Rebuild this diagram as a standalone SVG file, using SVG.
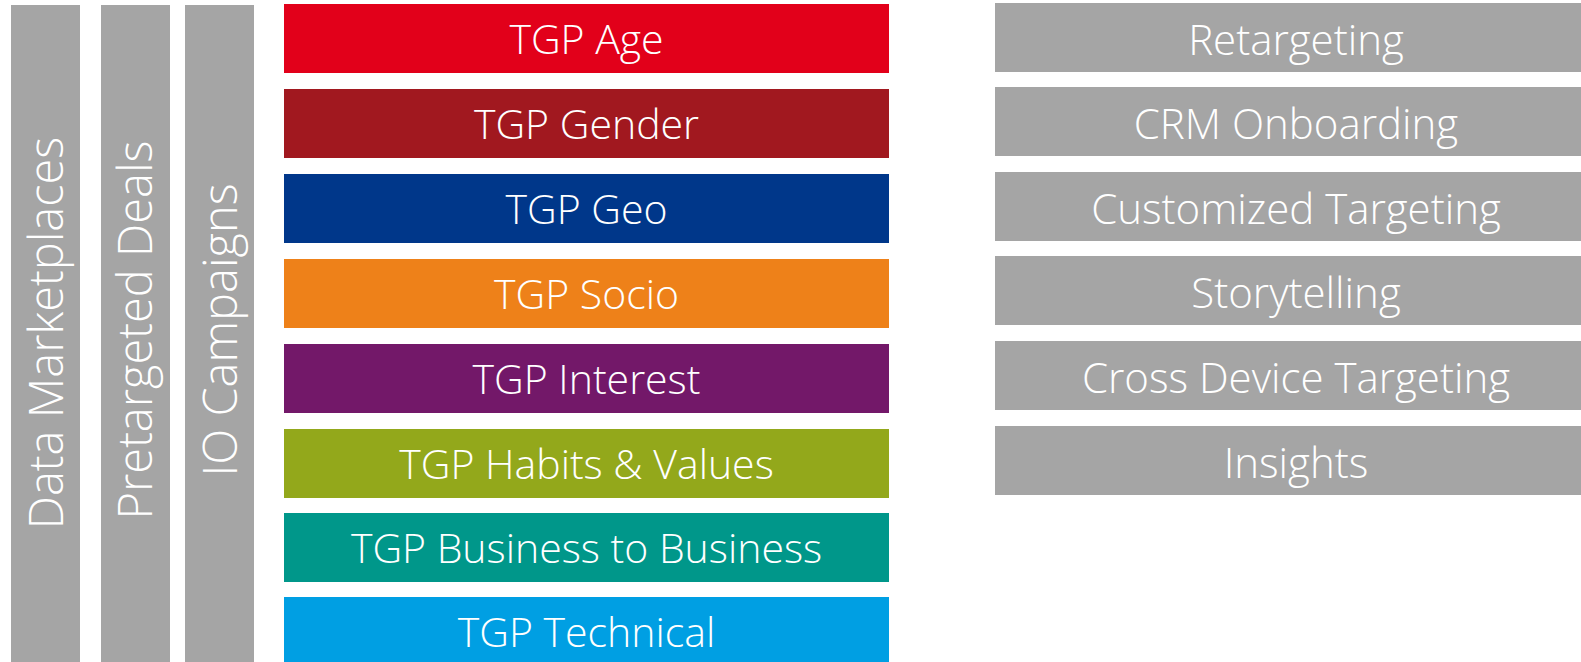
<svg xmlns="http://www.w3.org/2000/svg" width="1581" height="662" viewBox="0 0 1581 662">
<style>
.g{fill:#A5A5A5}
.t{fill:#fff;font-family:"Open Sans","Noto Sans",sans-serif;font-weight:300;text-anchor:middle}
.h{font-size:41px}
.r{font-size:42px}
.v{font-size:47px}
</style>
<rect width="1581" height="662" fill="#fff"/>
<g id="data-marketplaces"><rect class="g" x="11" y="5" width="69" height="657"/><text class="t v" transform="translate(63,333) rotate(-90)">Data Marketplaces</text></g>
<g id="pretargeted-deals"><rect class="g" x="101" y="5" width="69" height="657"/><text class="t v" transform="translate(152,330) rotate(-90)">Pretargeted Deals</text></g>
<g id="io-campaigns"><rect class="g" x="185" y="5" width="69" height="657"/><text class="t v" transform="translate(237,330) rotate(-90)">IO Campaigns</text></g>
<g id="tgp-age"><rect x="284" y="4" width="605" height="69" fill="#E2001A"/><text class="t h" x="586.5" y="54">TGP Age</text></g>
<g id="tgp-gender"><rect x="284" y="89" width="605" height="69" fill="#A1181F"/><text class="t h" x="586.5" y="139">TGP Gender</text></g>
<g id="tgp-geo"><rect x="284" y="174" width="605" height="69" fill="#00378A"/><text class="t h" x="586.5" y="224">TGP Geo</text></g>
<g id="tgp-socio"><rect x="284" y="259" width="605" height="69" fill="#EE8119"/><text class="t h" x="586.5" y="309">TGP Socio</text></g>
<g id="tgp-interest"><rect x="284" y="344" width="605" height="69" fill="#731869"/><text class="t h" x="586.5" y="394">TGP Interest</text></g>
<g id="tgp-habits"><rect x="284" y="429" width="605" height="69" fill="#93A81B"/><text class="t h" x="586.5" y="479">TGP Habits &amp; Values</text></g>
<g id="tgp-b2b"><rect x="284" y="513" width="605" height="69" fill="#00978A"/><text class="t h" x="586.5" y="563">TGP Business to Business</text></g>
<g id="tgp-technical"><rect x="284" y="597" width="605" height="65" fill="#009FE3"/><text class="t h" x="586.5" y="647">TGP Technical</text></g>
<g id="retargeting"><rect class="g" x="995" y="3" width="586" height="69"/><text class="t r" x="1296" y="55">Retargeting</text></g>
<g id="crm-onboarding"><rect class="g" x="995" y="87" width="586" height="69"/><text class="t r" x="1296" y="139">CRM Onboarding</text></g>
<g id="customized-targeting"><rect class="g" x="995" y="172" width="586" height="69"/><text class="t r" x="1296" y="224">Customized Targeting</text></g>
<g id="storytelling"><rect class="g" x="995" y="256" width="586" height="69"/><text class="t r" x="1296" y="308">Storytelling</text></g>
<g id="cross-device"><rect class="g" x="995" y="341" width="586" height="69"/><text class="t r" x="1296" y="393">Cross Device Targeting</text></g>
<g id="insights"><rect class="g" x="995" y="426" width="586" height="69"/><text class="t r" x="1296" y="478">Insights</text></g>
<g id="connectors"></g>
</svg>
